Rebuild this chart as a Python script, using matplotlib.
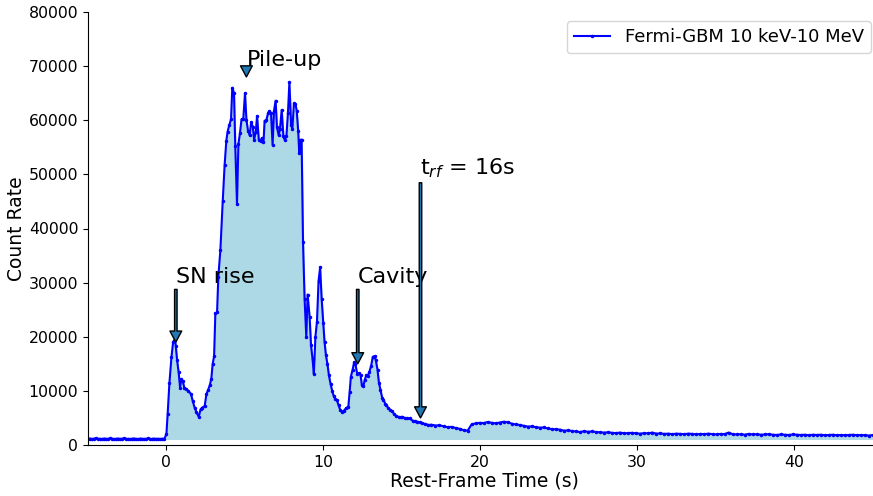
import numpy as np
import matplotlib.pyplot as plt

# Light curve (rest-frame seconds, counts)
# pre-burst background, 0.128 s bins from -5 s
pre_rate = [1150, 1200, 1100, 1180, 1220, 1120, 1160, 1090, 1200, 1150,
            1130, 1210, 1170, 1100, 1140, 1190, 1120, 1160, 1230, 1110,
            1150, 1080, 1170, 1200, 1130, 1100, 1190, 1160, 1120, 1140,
            1210, 1090, 1150, 1180, 1120, 1160, 1100, 1170, 1140]

# main burst, irregular read-off times
burst_t = [0.00, 0.08, 0.19, 0.32, 0.43, 0.55, 0.60, 0.68, 0.78, 0.87,
           0.95, 1.04, 1.15, 1.25, 1.40, 1.57, 1.68, 1.80, 1.90, 2.06,
           2.18, 2.28, 2.44, 2.55, 2.66, 2.76, 2.86, 2.95, 3.04, 3.12,
           3.23, 3.31, 3.44, 3.59, 3.71, 3.82, 3.90, 4.01, 4.12, 4.20,
           4.31, 4.39, 4.50, 4.59, 4.69, 4.79, 4.90, 5.01, 5.10, 5.20,
           5.31, 5.40, 5.51, 5.59, 5.70, 5.78, 5.89, 6.00, 6.08, 6.19,
           6.26, 6.37, 6.48, 6.56, 6.67, 6.77, 6.86, 6.96, 7.05, 7.16,
           7.24, 7.35, 7.46, 7.54, 7.65, 7.75, 7.84, 7.95, 8.03, 8.13,
           8.23, 8.31, 8.40, 8.47, 8.55, 8.62, 8.71, 8.81, 8.92, 9.00,
           9.13, 9.22, 9.32, 9.40, 9.50, 9.60, 9.70, 9.80, 9.90, 10.00,
           10.08, 10.17, 10.27, 10.36, 10.47, 10.57, 10.66, 10.76, 10.87, 10.98,
           11.08, 11.20, 11.30, 11.46, 11.60, 11.68, 11.76, 11.87, 11.97, 12.05,
           12.17, 12.27, 12.38, 12.46, 12.56, 12.65, 12.75, 12.83, 12.94, 13.05,
           13.16, 13.27, 13.35, 13.46, 13.55, 13.65, 13.76, 13.84, 13.95, 14.03,
           14.16, 14.27, 14.40, 14.52, 14.65, 14.80, 14.93, 15.05, 15.20, 15.35,
           15.50, 15.70, 15.85, 16.00, 16.15, 16.30, 16.50, 16.70]
burst_rate = [2000, 5800, 11400, 16200, 19100, 19500, 18200, 15700, 13400, 10600,
              12200, 11800, 10500, 10400, 10000, 9400, 8100, 6900, 6150, 5200,
              6600, 6900, 7200, 9400, 10200, 11000, 12200, 15000, 16400, 24300,
              24500, 31100, 36000, 45000, 51700, 56200, 57900, 59100, 60200, 66000,
              65000, 55300, 44500, 55600, 57600, 60200, 60200, 65000, 60100, 58100,
              57200, 59600, 58800, 56400, 57900, 60800, 56400, 56100, 56700, 55900,
              59900, 60000, 61300, 61700, 61300, 55400, 61700, 63600, 58700, 57200,
              58400, 61900, 57000, 56400, 57000, 61400, 67000, 59200, 58400, 63100,
              63000, 61700, 58100, 53900, 56400, 56400, 37500, 27000, 19900, 27800,
              23700, 18400, 15800, 13100, 20000, 22800, 30300, 32800, 26900, 22600,
              19100, 16600, 14900, 12900, 11200, 10000, 9100, 8500, 8300, 7300,
              6500, 6150, 6300, 6800, 7100, 9700, 12600, 13900, 15300, 14900,
              13100, 13300, 12900, 11100, 10900, 12100, 12900, 12700, 13500, 14600,
              16300, 16400, 15700, 13900, 11500, 10200, 8700, 8400, 7600, 7300,
              6800, 6500, 6200, 5700, 5400, 5200, 5100, 5200, 5000, 4900,
              4900, 4500, 4400, 4300, 4200, 4000, 3900, 3700]

# extended tail, 0.256 s bins from 16.9 s
tail_rate = [3750, 3600, 3650, 3450, 3300, 3350, 3150, 3000, 2750, 2650,
             3800, 4000, 4100, 4050, 4250, 4100, 4000, 4150, 4300, 4200,
             3950, 3800, 3700, 3550, 3400, 3450, 3300, 3200, 3250, 3050,
             2950, 2900, 2850, 2650, 2700, 2600, 2500, 2400, 2550, 2450,
             2500, 2400, 2350, 2300, 2350, 2250, 2200, 2300, 2150, 2200,
             2250, 2150, 2100, 2200, 2150, 2300, 2100, 2150, 2050, 2100,
             2000, 2100, 2050, 2000, 2100, 2050, 1950, 2050, 2000, 2100,
             2000, 1950, 2050, 2000, 2300, 2000, 1950, 2000, 1900, 2050,
             1950, 2000, 1900, 1950, 2000, 1900, 1850, 1950, 1900, 1850,
             1950, 1900, 1850, 1900, 1800, 1900, 1850, 1900, 1800, 1850,
             1900, 1800, 1850, 1800, 1850, 1900, 1800, 1850, 1800, 1750,
             1850, 1800]

bkg_level = 1150

t = np.concatenate([-5 + 0.128 * np.arange(len(pre_rate)),
                    burst_t,
                    16.9 + 0.256 * np.arange(len(tail_rate))])
rate = np.concatenate([pre_rate, burst_rate, tail_rate]).astype(float)

fig = plt.figure(figsize=(8.73, 4.96), dpi=100)
ax = fig.add_axes([88 / 873, 51 / 496, 792 / 873, 433 / 496])

on = t >= 0
ax.fill_between(t[on], bkg_level, rate[on], color='lightblue')
ax.plot(t, rate, color='blue', marker='.', markersize=3, linewidth=1.5,
        label='Fermi-GBM 10 keV-10 MeV')

arrow = dict(facecolor='#1f77b4', edgecolor='black', linewidth=1, width=1.8,
             headwidth=8.5, headlength=8)
ax.annotate('SN rise', xy=(0.6, 19000), xytext=(0.6, 30000),
            fontsize=16, arrowprops=arrow)
ax.annotate('Pile-up', xy=(5.1, 68000), xytext=(5.1, 70000),
            fontsize=16, arrowprops=arrow)
ax.annotate('Cavity', xy=(12.2, 15000), xytext=(12.2, 30000),
            fontsize=16, arrowprops=arrow)
ax.annotate(r't$_{rf}$ = 16s', xy=(16.2, 5000), xytext=(16.2, 50000),
            fontsize=16, arrowprops=arrow)

ax.set_xlim(-5, 45.5)
ax.set_ylim(0, 80000)
ax.set_xticks([0, 10, 20, 30, 40])
ax.set_yticks(np.arange(0, 80001, 10000))
ax.tick_params(labelsize=11.3)
ax.set_xlabel('Rest-Frame Time (s)', fontsize=13.5, labelpad=1)
ax.set_ylabel('Count Rate', fontsize=13.5, labelpad=2)
ax.spines['top'].set_visible(False)
ax.spines['right'].set_visible(False)
ax.legend(loc='upper right', fontsize=13)

fig.savefig('out.png', dpi=100)
